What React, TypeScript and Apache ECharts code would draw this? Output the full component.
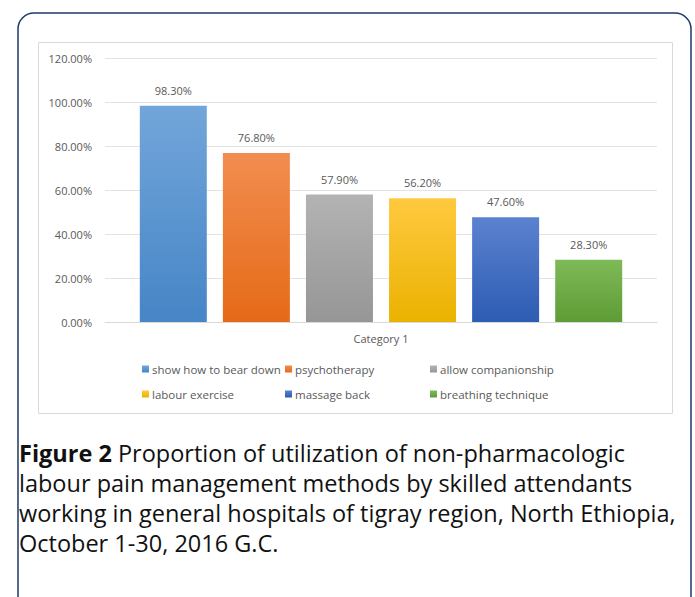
import React, { useEffect, useRef } from "react";
import * as echarts from "echarts";

const categories = ["Category 1"];
const seriesNames = [
  "show how to bear down",
  "psychotherapy",
  "allow companionship",
  "labour exercise",
  "massage back",
  "breathing technique",
];
const seriesValues = [0.983, 0.768, 0.579, 0.562, 0.476, 0.283];
const yTicks = [0, 0.2, 0.4, 0.6, 0.8, 1.0, 1.2];
const legendColumns = [
  ["show how to bear down", "labour exercise"],
  ["psychotherapy", "massage back"],
  ["allow companionship", "breathing technique"],
];
const captionBold = "Figure 2";
const captionLines = [
  " Proportion of utilization of non-pharmacologic",
  "labour pain management methods by skilled attendants",
  "working in general hospitals of tigray region, North Ethiopia,",
  "October 1-30, 2016 G.C.",
];

const topColors = ["#72a6da", "#f28d50", "#b3b3b3", "#ffc940", "#5b82cf", "#7fba58"];
const bottomColors = ["#4685c6", "#e56a17", "#969696", "#eab200", "#2d5cb3", "#5e9c35"];

export default function App() {
  const ref = useRef<HTMLDivElement>(null);
  useEffect(() => {
    if (!ref.current) return;
    const chart = echarts.init(ref.current, undefined, { renderer: "svg" });
    const textColor = "#595959";
    const font = "Open Sans";
    const series = seriesNames.map((name, i) => ({
      name,
      type: "bar",
      data: [seriesValues[i]],
      barWidth: 67,
      barGap: "24%",
      itemStyle: {
        color: new echarts.graphic.LinearGradient(0, 0, 0, 1, [
          { offset: 0, color: topColors[i] },
          { offset: 1, color: bottomColors[i] },
        ]),
      },
      label: {
        show: true,
        position: "top",
        distance: 10,
        color: textColor,
        fontSize: 11,
        fontFamily: font,
        formatter: (p: any) => (p.value * 100).toFixed(2) + "%",
      },
    }));
    const legends = legendColumns.map((names, i) => ({
      data: names,
      orient: "vertical",
      left: [137, 280, 425][i],
      top: 363,
      itemWidth: 7,
      itemHeight: 7,
      itemGap: 13,
      icon: "rect",
      padding: [0, 5, 0, 5],
      textStyle: { color: textColor, fontSize: 11.5, fontFamily: font, padding: [0, 0, 0, -2] },
    }));
    chart.setOption({
      animation: false,
      backgroundColor: "#ffffff",
      textStyle: { fontFamily: font },
      grid: { left: 105, right: 38, top: 58, bottom: 275 },
      xAxis: {
        type: "category",
        data: categories,
        axisLine: { lineStyle: { color: "#d9d9d9" } },
        axisTick: { show: false },
        axisLabel: { color: textColor, fontSize: 11, fontFamily: font, margin: 11 },
      },
      yAxis: {
        type: "value",
        min: yTicks[0],
        max: yTicks[yTicks.length - 1],
        interval: 0.2,
        axisLine: { show: false },
        axisTick: { show: false },
        splitLine: { lineStyle: { color: "#e3e3e3" } },
        axisLabel: {
          color: textColor,
          fontSize: 11,
          fontFamily: font,
          margin: 13,
          formatter: (v: number) => (v * 100).toFixed(2) + "%",
        },
      },
      legend: legends,
      series,
      graphic: [
        {
          type: "rect",
          shape: { x: 18, y: 13, width: 673, height: 600, r: 16 },
          style: { fill: "none", stroke: "#1f3866", lineWidth: 1.5 },
          silent: true,
          z: -10,
        },
        {
          type: "rect",
          shape: { x: 38.5, y: 42.5, width: 634, height: 371 },
          style: { fill: "none", stroke: "#d9d9d9", lineWidth: 1 },
          silent: true,
          z: -10,
        },
        {
          type: "text",
          left: 19,
          top: 438,
          style: {
            text:
              "{b|" + captionBold + "}{n|" + captionLines[0] + "}\n" +
              captionLines.slice(1).map((l) => "{n|" + l + "}").join("\n"),
            fontFamily: font,
            fontSize: 23.5,
            lineHeight: 30,
            fill: "#111111",
            rich: {
              b: { fontFamily: font, fontSize: 23.5, fontWeight: "bold", lineHeight: 30, fill: "#111111" },
              n: { fontFamily: font, fontSize: 23.5, lineHeight: 30, fill: "#111111" },
            },
          },
        },
      ],
    } as any);
    return () => chart.dispose();
  }, []);
  return (
    <div
      ref={ref}
      style={{ position: "absolute", left: 0, top: 0, width: 695, height: 597 }}
    />
  );
}
